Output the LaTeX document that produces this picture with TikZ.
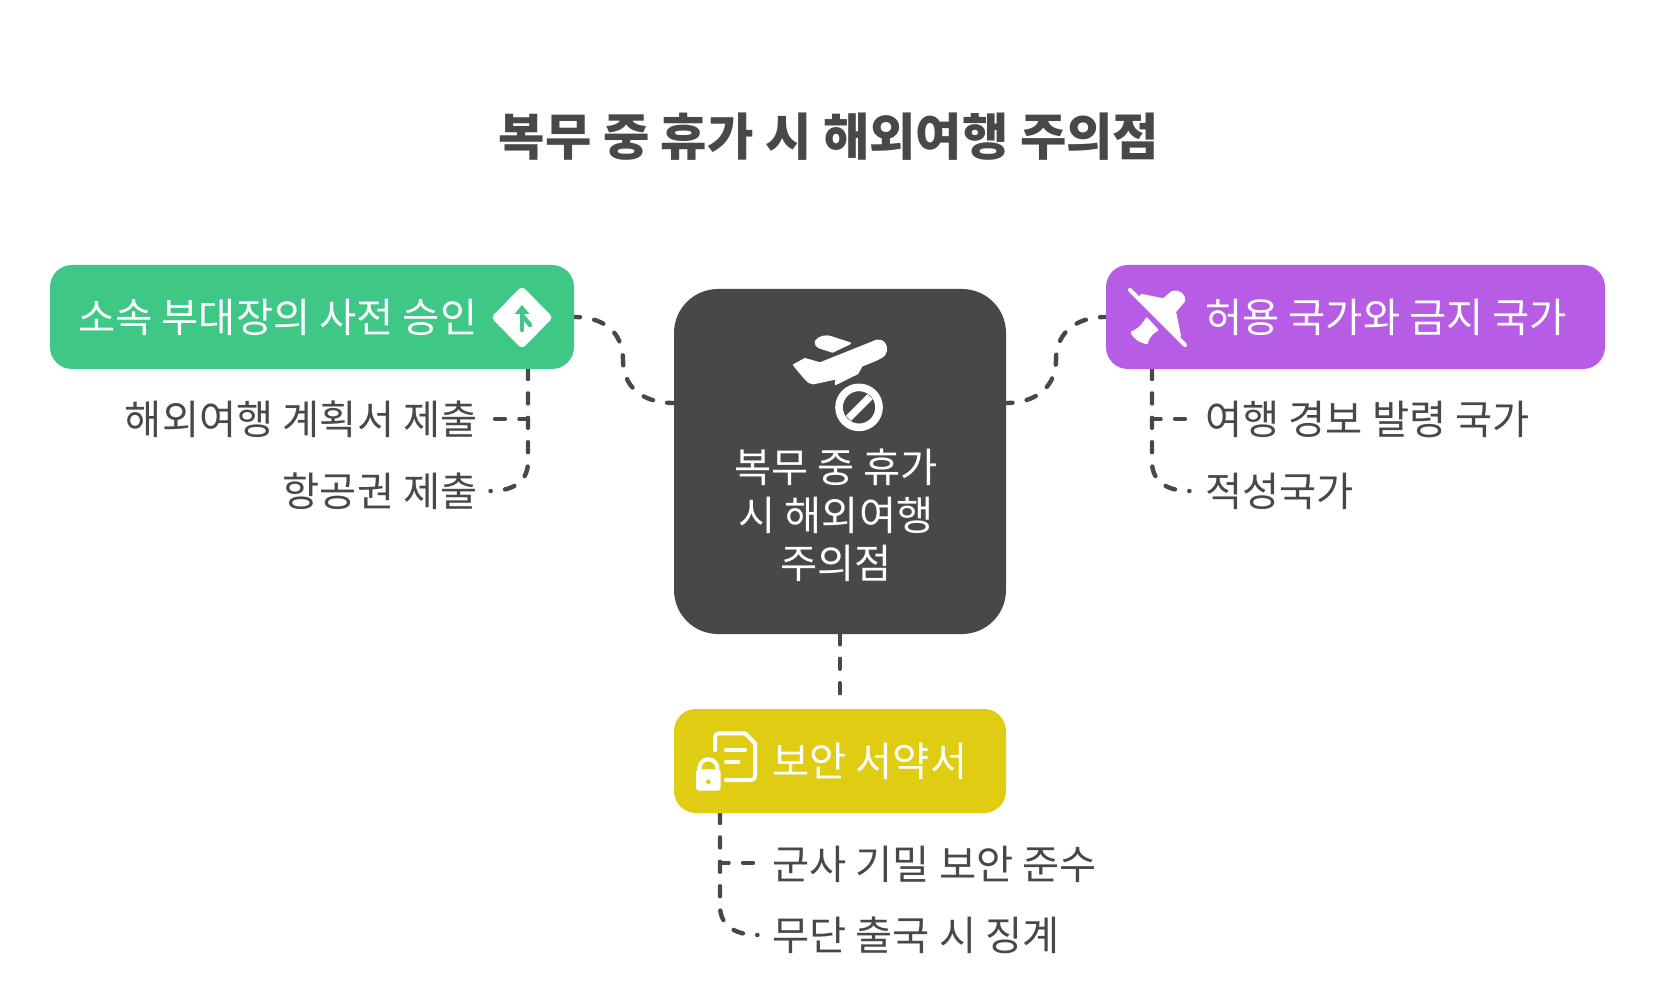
\documentclass[tikz,border=0pt]{standalone}
\usepackage{fontspec}
\setmainfont{Noto Sans CJK KR}
\usetikzlibrary{calc}
\definecolor{ink}{HTML}{484848}
\definecolor{grn}{HTML}{3EC785}
\definecolor{pur}{HTML}{B75CE4}
\definecolor{yel}{HTML}{E0CD13}
\tikzset{
 box/.style={rounded corners=11pt,inner sep=0pt,draw=none,minimum height=52pt},
 lbl/.style={inner sep=0pt,text=white,font=\fontsize{20.2}{24}\selectfont},
 leaf/.style={inner sep=0pt,text=ink,font=\fontsize{20.2}{24}\selectfont},
 conn/.style={draw=ink,line width=2.2pt,line cap=round,dash pattern=on 5pt off 7.2pt},
 icon/.style={fill=white,draw=white,line join=round,line width=1pt},
 iconline/.style={draw=white,line cap=round,line join=round,line width=2pt}
}
\begin{document}
\begin{tikzpicture}[x=0.5pt,y=-0.5pt]
\useasboundingbox (0,0) rectangle (1656,984);
\fill[white] (0,0) rectangle (1656,984);
% anchor coordinates
\coordinate (gB) at (528,369);
\coordinate (pB) at (1152,369);
\coordinate (yB) at (720,813);
\coordinate (dL) at (674,403);
\coordinate (dR) at (1006,403);
\coordinate (cEnd) at (840,699);
% leaf ends
\coordinate (g1) at (495,419);
\coordinate (g1c) at (528,419);
\coordinate (g2) at (490.5,491);
\coordinate (p1) at (1185,419);
\coordinate (p1c) at (1152,419);
\coordinate (p2) at (1189.5,491);
\coordinate (y1) at (753,863);
\coordinate (y1c) at (720,863);
\coordinate (y2) at (757.5,935);
% connectors
\draw[conn,dash phase=2pt] (574,317) .. controls (607,317) and (623,335) .. (623,360) .. controls (623,385) and (640,403) .. (dL);
\draw[conn,dash phase=2pt] (1106,317) .. controls (1073,317) and (1056,335) .. (1056,360) .. controls (1056,385) and (1038,403) .. (dR);
\draw[conn] (gB) -- (528,462) .. controls (528,480) and (515,491) .. (g2);
\draw[conn] (g1) -- (g1c);
\draw[conn] (pB) -- (1152,462) .. controls (1152,480) and (1165,491) .. (p2);
\draw[conn] (p1) -- (p1c);
\draw[conn] (yB) -- (720,906) .. controls (720,924) and (733,935) .. (y2);
\draw[conn] (y1) -- (y1c);
% boxes
\node[box,fill=grn,minimum width=262pt] (green) at (312,317) {};
\node[box,fill=pur,minimum width=249.5pt] (purple) at (1355.5,317) {};
\node[box,fill=yel,minimum width=166pt] (yellow) at (840,761) {};
\node[box,fill=ink,rounded corners=22pt,minimum width=166pt,minimum height=172.5pt] (dark) at (840,461.5) {};
\draw[conn] (dark.south -| cEnd) -- (cEnd);
% title and labels
\node[inner sep=0pt,text=ink,font=\fontsize{25.2}{30}\selectfont\bfseries] (title) at (829,137) {복무 중 휴가 시 해외여행 주의점};
\node[lbl,anchor=west] (gl) at (78,317) {소속 부대장의 사전 승인};
\node[lbl,anchor=west] (pl) at (1205,317) {허용 국가와 금지 국가};
\node[lbl,anchor=west] (yl) at (772,761) {보안 서약서};
\node[lbl,align=center] (dl) at (836,515) {복무 중 휴가\\[0pt]시 해외여행\\[0pt]주의점};
\node[leaf,anchor=east] (l1) at (478,419) {해외여행 계획서 제출};
\node[leaf,anchor=east] (l2) at (478,491) {항공권 제출};
\node[leaf,anchor=west] (l3) at (1205,419) {여행 경보 발령 국가};
\node[leaf,anchor=west] (l4) at (1205,491) {적성국가};
\node[leaf,anchor=west] (l5) at (772,864) {군사 기밀 보안 준수};
\node[leaf,anchor=west] (l6) at (772,935) {무단 출국 시 징계};
% plane icon (centre node)
\begin{scope}[shift={(720,300)},x=0.1667pt,y=-0.1667pt]
\filldraw[icon] (222,195) -- (255,177) -- (300,190) -- (470,122) .. controls (490,118) and (500,135) .. (498,152) .. controls (495,170) and (480,175) .. (425,197) -- (412,220) -- (347,252) -- (350,235) -- (280,250) .. controls (265,252) and (250,228) .. (222,195) -- cycle;
\filldraw[icon] (287,125) .. controls (295,110) and (320,105) .. (335,112) -- (390,130) -- (338,155) -- (300,143) .. controls (290,138) and (285,132) .. (287,125) -- cycle;
\draw[white,line width=3.8pt] (417,322) circle (60);
\draw[white,line width=3.6pt] (385,355) -- (450,290);
\end{scope}
% merge icon
\fill[white,rounded corners=2pt] (522,286) -- (553,317.5) -- (522,349) -- (491,317.5) -- cycle;
\draw[grn,line width=2.2pt,line cap=round] (522,309) -- (522,330);
\draw[grn,line width=2.2pt,line cap=round] (522,315) -- (530,325);
\fill[grn] (522,305) -- (529.5,314) -- (514.5,314) -- cycle;
% no-flight icon
\begin{scope}[shift={(1000,260)},x=0.1667pt,y=-0.1667pt]
\filldraw[icon] (425,105) -- (490,118) -- (515,97) .. controls (535,88) and (555,105) .. (553,122) -- (525,155) -- (540,228) -- (530,232) -- (420,110) -- cycle;
\filldraw[icon] (395,217) .. controls (410,212) and (425,200) .. (440,175) -- (472,210) .. controls (450,222) and (445,235) .. (440,250) .. controls (425,245) and (405,240) .. (395,217) -- cycle;
\draw[white,line width=2pt,line cap=round] (390,90) -- (555,255);
\end{scope}
% document + lock icon
\begin{scope}[shift={(670,700)},x=0.1667pt,y=-0.1667pt]
\draw[iconline] (135,150) -- (135,112) .. controls (135,104) and (140,100) .. (148,100) -- (225,100) -- (255,130) -- (255,228) .. controls (255,236) and (250,240) .. (243,240) -- (168,240);
\draw[iconline] (168,150) -- (225,150);
\draw[iconline] (168,185) -- (205,185);
\draw[white,line width=2pt] (115,205) circle (27);
\fill[white,rounded corners=1.5pt] (78,208) rectangle (152,272);
\fill[yel] (115,245) circle (7);
\end{scope}
\end{tikzpicture}
\end{document}
